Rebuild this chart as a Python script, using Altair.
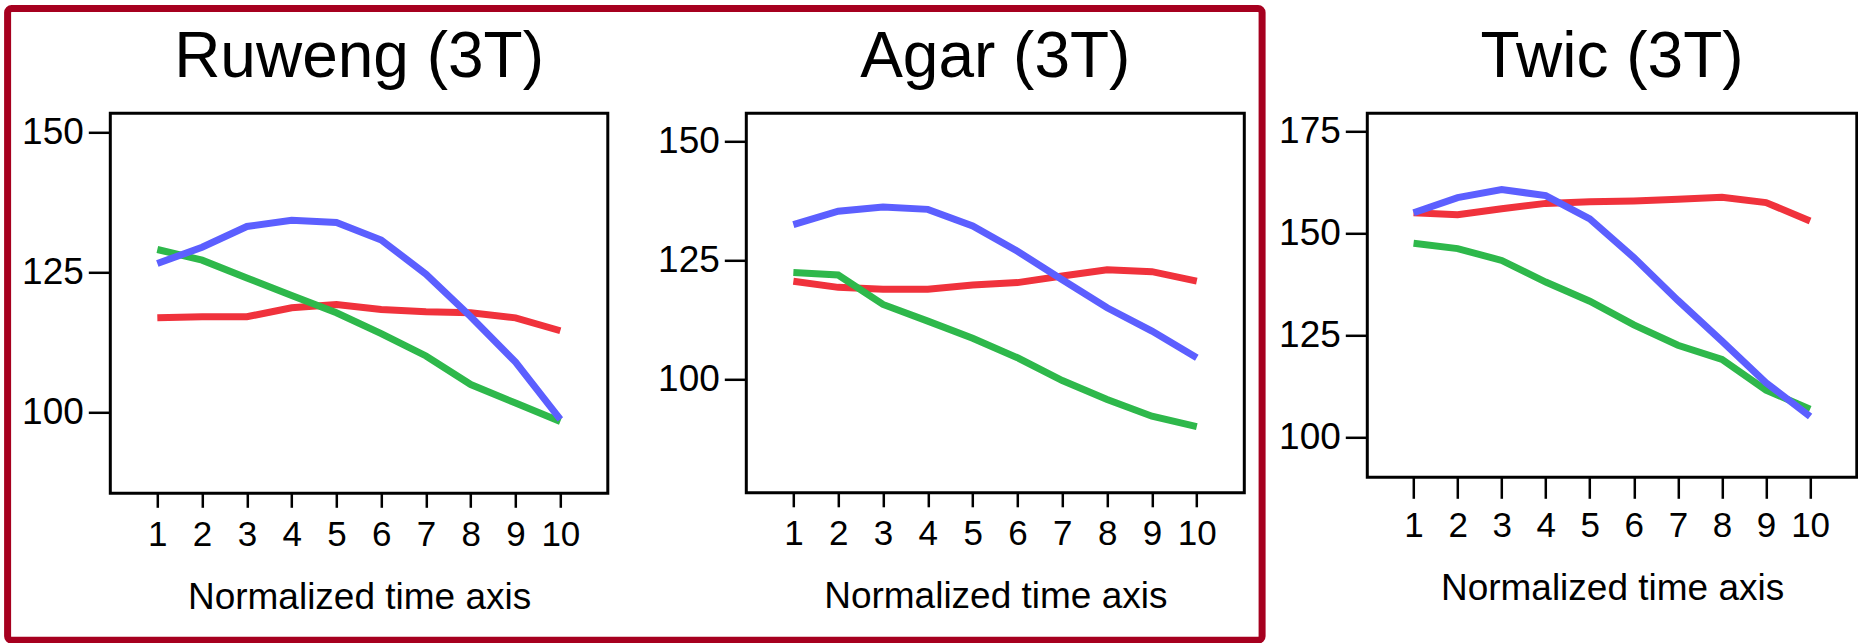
import altair as alt
import pandas as pd

# ---------------- data ----------------
time_points = list(range(1, 11))
series_names = ["Series 1", "Series 2", "Series 3"]
series_colors = ["#F0323C", "#2EB84B", "#5C5FFF"]

ruweng_red = [116.9, 117.1, 117.1, 118.7, 119.3, 118.4, 118.0, 117.8, 116.9, 114.6]
ruweng_green = [129.1, 127.2, 124.0, 120.9, 117.8, 114.1, 110.1, 105.0, 101.7, 98.4]
ruweng_blue = [126.6, 129.5, 133.2, 134.3, 133.9, 130.8, 124.7, 117.1, 109.0, 98.8]

agar_red = [120.6, 119.3, 118.9, 118.9, 119.8, 120.3, 121.7, 123.0, 122.6, 120.6]
agar_green = [122.4, 121.9, 115.7, 112.2, 108.6, 104.5, 99.7, 95.7, 92.2, 90.0]
agar_blue = [132.5, 135.3, 136.2, 135.7, 132.2, 126.9, 120.9, 115.0, 110.1, 104.5]

twic_red = [155.1, 154.6, 156.1, 157.4, 157.8, 158.0, 158.4, 158.9, 157.6, 153.1]
twic_green = [147.6, 146.3, 143.4, 138.1, 133.4, 127.6, 122.6, 119.1, 111.6, 106.9]
twic_blue = [155.1, 158.8, 160.8, 159.3, 153.6, 144.1, 133.6, 123.6, 113.4, 105.1]

panel_titles = ["Ruweng (3T)", "Agar (3T)", "Twic (3T)"]
y_ticks_12 = [100, 125, 150]
y_ticks_3 = [100, 125, 150, 175]
x_title = "Normalized time axis"

FONT = "Liberation Sans"
BORDER = "#A6001F"


def long_df(series_lists):
    rows = []
    for name, vals in zip(series_names, series_lists):
        for t, v in zip(time_points, vals):
            rows.append({"series": name, "t": t, "v": v})
    return pd.DataFrame(rows)


def make_panel(title, series_lists, ydom, yticks, xtick, title_y, width, height):
    df = long_df(series_lists)
    base = alt.Chart(df)
    xenc = alt.X(
        "t:Q",
        scale=alt.Scale(domain=[-0.05, 11.06], nice=False, zero=False),
        axis=alt.Axis(values=time_points, title=x_title, tickSize=xtick,
                      labelPadding=10, labelFontSize=35, titleY=title_y,
                      titleBaseline="alphabetic", format="d"),
    )
    yenc = alt.Y(
        "v:Q",
        scale=alt.Scale(domain=ydom, nice=False, zero=False),
        axis=alt.Axis(values=yticks, title=None, tickSize=22, labelPadding=5,
                      labelFontSize=37),
    )
    layers = []
    for name, color in zip(series_names, series_colors):
        layers.append(
            base.transform_filter(alt.datum.series == name)
            .mark_line(color=color, strokeWidth=7, clip=True)
            .encode(x=xenc, y=yenc)
        )
    return alt.layer(*layers).properties(
        width=width,
        height=height,
        title=alt.TitleParams(title, fontSize=64, font=FONT, fontWeight="normal",
                              color="black", frame="group", anchor="middle",
                              offset=-28, baseline="alphabetic"),
        view=alt.ViewBackground(stroke="black", strokeWidth=3),
    )


def spacer(width, with_border=False):
    blank = alt.Chart(alt.Data(values=[{"k": 1}]))
    if with_border:
        mark = blank.mark_rect(filled=False, stroke=BORDER, strokeWidth=7,
                               cornerRadius=4, clip=False, fillOpacity=0).encode(
            x=alt.value(-600.7), x2=alt.value(653.8),
            y=alt.value(-104.7), y2=alt.value(527))
    else:
        mark = blank.mark_point(opacity=0).encode(x=alt.value(0), y=alt.value(0))
    return mark.properties(width=width, height=1)


p1 = make_panel(panel_titles[0], [ruweng_red, ruweng_green, ruweng_blue],
                [85.6, 153.4], y_ticks_12, 14, 115.5, 497.5, 380)
p2 = make_panel(panel_titles[1], [agar_red, agar_green, agar_blue],
                [76.1, 155.9], y_ticks_12, 14, 114.3, 498, 379.5)
p3 = make_panel(panel_titles[2], [twic_red, twic_green, twic_blue],
                [90.2, 179.5], y_ticks_3, 21, 122.3, 489.5, 364)

chart = (
    alt.hconcat(p1, spacer(137.5, True), p2, spacer(123), p3,
                spacing=0, bounds="flush")
    .properties(padding={"left": 3.3, "top": 4.3, "right": 0, "bottom": 0},
                background="white")
    .configure_view(strokeWidth=0)
    .configure_axis(domain=False, grid=False, tickColor="black", tickWidth=2.5,
                    labelFont=FONT, labelColor="black",
                    titleFont=FONT, titleFontSize=37, titleFontWeight="normal",
                    titleColor="black")
)

chart.save("out.html", embed_options={"renderer": "svg", "actions": False})
